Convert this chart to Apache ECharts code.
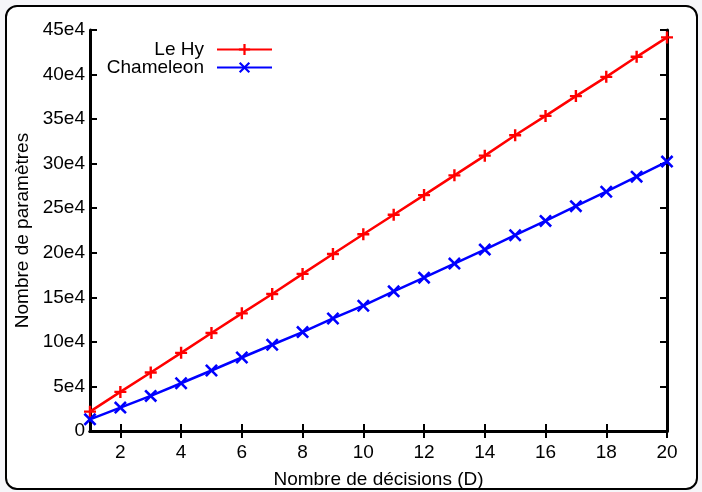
<!DOCTYPE html>
<html lang="fr">
<head>
    <meta charset="UTF-8">
    <title>Nombre de paramètres</title>
    <style>
        *{
            margin: 0;
            padding: 0;
        }
        html, body{
            width: 100%;
            height: 100%;
            background: #f6f6f9;
        }
        #chart{
            width: 702px;
            height: 492px;
        }
    </style>
</head>
<body>
<div id="chart"></div>
<script src="https://cdn.jsdelivr.net/npm/echarts@6/dist/echarts.min.js"></script>
<script>
    // values
    var decisions = [1, 2, 3, 4, 5, 6, 7, 8, 9, 10, 11, 12, 13, 14, 15, 16, 17, 18, 19, 20];
    var leHy = [21700, 43900, 65600, 87700, 109900, 132000, 153700, 176300, 198700, 220800,
        242600, 264700, 286900, 309000, 331900, 353600, 375800, 397400, 419900, 441700];
    var chameleon = [13100, 26300, 39400, 53600, 67900, 82500, 96800, 111000, 126300, 140600,
        156700, 172100, 187900, 203600, 219700, 235800, 252300, 268500, 285400, 302300];
    var xTicks = [2, 4, 6, 8, 10, 12, 14, 16, 18, 20];

    var plusPath = 'path://M4,0L6,0L6,4L10,4L10,6L6,6L6,10L4,10L4,6L0,6L0,4L4,4Z';
    var crossPath = 'path://M0,1.4L1.4,0L5,3.6L8.6,0L10,1.4L6.4,5L10,8.6L8.6,10L5,6.4L1.4,10L0,8.6L3.6,5Z';

    var font = 'Liberation Sans, Arial, Helvetica, sans-serif';
    var chart = echarts.init(document.getElementById('chart'));

    function pairs(ys) {
        var out = [];
        for (var i = 0; i < decisions.length; i++) {
            out.push([decisions[i], ys[i]]);
        }
        return out;
    }

    var axisLine = {show: true, lineStyle: {color: '#000', width: 3}};
    var axisTick = {show: true, inside: true, length: 7, lineStyle: {color: '#000', width: 2}};
    var legendText = {fontFamily: font, fontSize: 19, color: '#000', padding: [0, 8, 0, 0]};

    var option = {
        animation: false,
        graphic: [{
            type: 'rect',
            z: -10,
            shape: {x: 6, y: 6, width: 691, height: 483, r: 11},
            style: {fill: '#fff', stroke: '#000', lineWidth: 2}
        }],
        grid: {left: 90, right: 35, top: 30, bottom: 61, outerBoundsMode: 'none'},
        legend: [{
            data: ['Le Hy'],
            right: 429,
            top: 40,
            padding: 0,
            align: 'right',
            itemWidth: 55,
            itemHeight: 14,
            textStyle: legendText
        }, {
            data: ['Chameleon'],
            right: 429,
            top: 58,
            padding: 0,
            align: 'right',
            itemWidth: 55,
            itemHeight: 14,
            textStyle: legendText
        }],
        xAxis: [{
            type: 'value',
            min: 1,
            max: 20,
            name: 'Nombre de décisions (D)',
            nameLocation: 'middle',
            nameGap: 39,
            nameTextStyle: {fontFamily: font, fontSize: 19, color: '#000'},
            axisLine: axisLine,
            axisTick: {show: true, inside: true, length: 7, lineStyle: {color: '#000', width: 2}, customValues: xTicks},
            axisLabel: {fontFamily: font, fontSize: 19, color: '#000', margin: 12, customValues: xTicks},
            splitLine: {show: false}
        }, {
            type: 'value',
            position: 'top',
            min: 1,
            max: 20,
            axisLine: axisLine,
            axisTick: {show: true, inside: true, length: 7, lineStyle: {color: '#000', width: 2}, customValues: xTicks},
            axisLabel: {show: false},
            splitLine: {show: false}
        }],
        yAxis: [{
            type: 'value',
            min: 0,
            max: 450000,
            interval: 50000,
            name: 'Nombre de paramètres',
            nameLocation: 'middle',
            nameGap: 58,
            nameTextStyle: {fontFamily: font, fontSize: 19, color: '#000'},
            axisLine: axisLine,
            axisTick: axisTick,
            axisLabel: {
                fontFamily: font, fontSize: 19, color: '#000', margin: 5,
                formatter: function (v) {
                    return v === 0 ? '0' : (v / 10000) + 'e4';
                }
            },
            splitLine: {show: false}
        }, {
            type: 'value',
            position: 'right',
            min: 0,
            max: 450000,
            interval: 50000,
            axisLine: axisLine,
            axisTick: axisTick,
            axisLabel: {show: false},
            splitLine: {show: false}
        }],
        series: [{
            name: 'Le Hy',
            type: 'line',
            data: pairs(leHy),
            symbol: plusPath,
            symbolSize: 12,
            showAllSymbol: true,
            lineStyle: {color: '#ff0000', width: 2.5},
            itemStyle: {color: '#ff0000'}
        }, {
            name: 'Chameleon',
            type: 'line',
            data: pairs(chameleon),
            symbol: crossPath,
            symbolSize: 13,
            showAllSymbol: true,
            lineStyle: {color: '#0000ff', width: 2.5},
            itemStyle: {color: '#0000ff'}
        }]
    };

    chart.setOption(option);
    window.onresize = function () {
        chart.resize();
    };
</script>
</body>
</html>
